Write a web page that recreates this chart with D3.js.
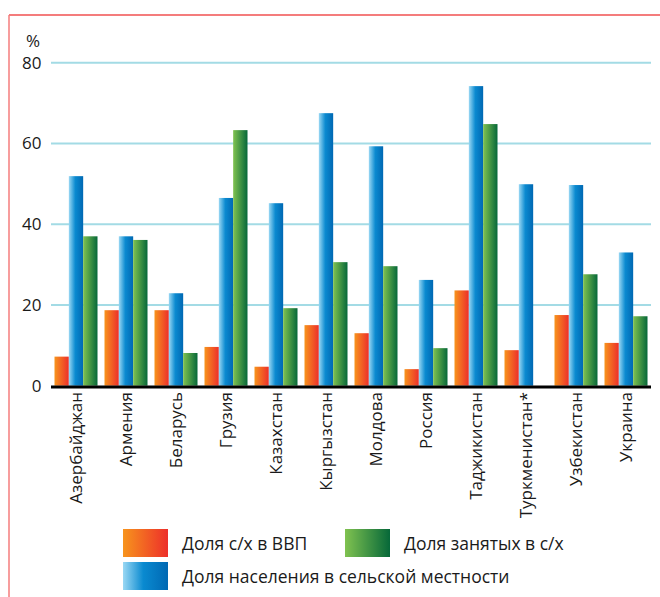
<!DOCTYPE html>
<html>
<head>
<meta charset="utf-8">
<script src="https://cdn.jsdelivr.net/npm/d3@7"></script>
<style>
  html, body { margin: 0; padding: 0; background: #fff; }
  svg { display: block; }
  text { font-family: "Open Sans", "Noto Sans", sans-serif; fill: #1a1a1a; }
</style>
</head>
<body>
<svg id="chart" width="660" height="597"></svg>
<script>
const categories = ["Азербайджан", "Армения", "Беларусь", "Грузия", "Казахстан", "Кыргызстан",
                    "Молдова", "Россия", "Таджикистан", "Туркменистан*", "Узбекистан", "Украина"];
const seriesNames = ["Доля с/х в ВВП", "Доля населения в сельской местности", "Доля занятых в с/х"];
const gdpShare   = [7.2, 18.7, 18.7, 9.6, 4.7, 15.0, 13.0, 4.1, 23.6, 8.8, 17.5, 10.6];
const ruralShare = [51.9, 37.0, 22.9, 46.5, 45.2, 67.5, 59.3, 26.2, 74.2, 49.9, 49.7, 33.0];
const employShare = [37.0, 36.1, 8.1, 63.3, 19.2, 30.6, 29.6, 9.3, 64.8, null, 27.6, 17.2];
const yTicks = [0, 20, 40, 60, 80];

const svg = d3.select("#chart");
const defs = svg.append("defs");

function grad(id, stops) {
  const g = defs.append("linearGradient").attr("id", id)
    .attr("x1", "0%").attr("x2", "100%").attr("y1", "0%").attr("y2", "0%");
  stops.forEach(s => g.append("stop").attr("offset", s[0]).attr("stop-color", s[1]));
}
grad("gOrange", [["0%", "#f7941d"], ["100%", "#ed2f2a"]]);
grad("gBlue", [["0%", "#9ad8f4"], ["45%", "#0a8ad0"], ["100%", "#0068b3"]]);
grad("gGreen", [["0%", "#80c250"], ["100%", "#066839"]]);
const fills = ["url(#gOrange)", "url(#gBlue)", "url(#gGreen)"];

// frame
svg.append("line").attr("x1", 9).attr("x2", 660).attr("y1", 15).attr("y2", 15)
  .attr("stroke", "#f47c7c").attr("stroke-width", 2);
svg.append("line").attr("x1", 9).attr("x2", 9).attr("y1", 15).attr("y2", 597)
  .attr("stroke", "#f47c7c").attr("stroke-width", 1.5);

const x0 = d3.scaleBand().domain(categories).range([51, 651]).paddingInner(0.14).paddingOuter(0.07);
const x1 = d3.scaleBand().domain(d3.range(3)).range([0, x0.bandwidth()]);
const y = d3.scaleLinear().domain([0, 80]).range([385.7, 62.7]);

// gridlines
svg.append("g").selectAll("line").data(yTicks.filter(t => t > 0)).join("line")
  .attr("x1", 51).attr("x2", 651)
  .attr("y1", d => y(d)).attr("y2", d => y(d))
  .attr("stroke", "#a3dbe5").attr("stroke-width", 2);

// y tick labels
svg.append("g").selectAll("text").data(yTicks).join("text")
  .attr("x", 41.5).attr("y", d => y(d)).attr("dy", "0.35em")
  .attr("text-anchor", "end").attr("font-size", 17).text(d => d);
svg.append("text").attr("x", 33).attr("y", 47).attr("text-anchor", "middle")
  .attr("font-size", 17).text("%");

// bars
const series = [gdpShare, ruralShare, employShare];
const groups = svg.append("g").selectAll("g").data(categories).join("g")
  .attr("transform", d => `translate(${x0(d)},0)`);
groups.selectAll("rect")
  .data((d, i) => series.map((s, k) => ({ k, v: s[i] })).filter(o => o.v != null))
  .join("rect")
  .attr("x", o => x1(o.k)).attr("width", x1.bandwidth())
  .attr("y", o => y(o.v)).attr("height", o => y(0) - y(o.v))
  .attr("fill", o => fills[o.k]);

// baseline
svg.append("line").attr("x1", 51).attr("x2", 651).attr("y1", y(0) + 1.2).attr("y2", y(0) + 1.2)
  .attr("stroke", "#000").attr("stroke-width", 3);

// category labels
svg.append("g").selectAll("text").data(categories).join("text")
  .attr("transform", d => `translate(${x0(d) + x0.bandwidth() / 2},392) rotate(-90)`)
  .attr("text-anchor", "end").attr("dy", "0.35em").attr("font-size", 17)
  .text(d => d);

// legend
const legend = [
  { name: seriesNames[0], fill: fills[0], x: 123, y: 529 },
  { name: seriesNames[2], fill: fills[2], x: 345, y: 529 },
  { name: seriesNames[1], fill: fills[1], x: 123, y: 562 }
];
const lg = svg.append("g").selectAll("g").data(legend).join("g")
  .attr("transform", d => `translate(${d.x},${d.y})`);
lg.append("rect").attr("width", 45).attr("height", 28).attr("fill", d => d.fill);
lg.append("text").attr("x", 59).attr("y", 21).attr("font-size", 17.5).text(d => d.name);
</script>
</body>
</html>
